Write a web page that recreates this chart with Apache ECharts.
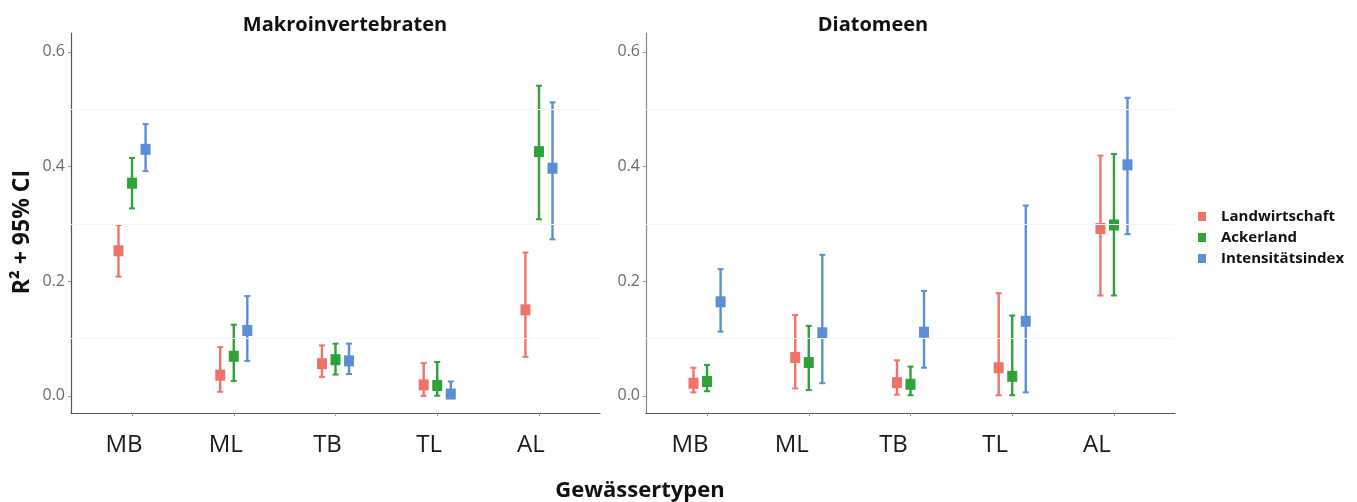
<!DOCTYPE html>
<html><head><meta charset="utf-8">
<script src="https://cdn.jsdelivr.net/npm/echarts@6/dist/echarts.min.js"></script>
<style>html,body{margin:0;padding:0;background:#fff}#c{width:1357px;height:502px}</style>
</head><body><div id="c"></div>
<script>
const categories = ['MB', 'ML', 'TB', 'TL', 'AL'];
const groups = ['Landwirtschaft', 'Ackerland', 'Intensitätsindex'];
const yTicks = [0, 0.2, 0.4, 0.6];
const gridValues = [0.1, 0.3, 0.5];
const panelTitles = ['Makroinvertebraten', 'Diatomeen'];

// Makroinvertebraten
const makroLandwirtschaft   = [0.253, 0.036, 0.056, 0.019, 0.150];
const makroLandwirtschaftLo = [0.208, 0.007, 0.033, 0.000, 0.068];
const makroLandwirtschaftHi = [0.298, 0.085, 0.088, 0.057, 0.250];
const makroAckerland        = [0.371, 0.069, 0.063, 0.018, 0.426];
const makroAckerlandLo      = [0.327, 0.026, 0.037, 0.000, 0.308];
const makroAckerlandHi      = [0.415, 0.124, 0.091, 0.059, 0.541];
const makroIntensitaet      = [0.430, 0.114, 0.061, 0.003, 0.397];
const makroIntensitaetLo    = [0.392, 0.061, 0.038, 0.000, 0.273];
const makroIntensitaetHi    = [0.474, 0.174, 0.091, 0.025, 0.512];

// Diatomeen
const diaLandwirtschaft   = [0.022, 0.067, 0.023, 0.049, 0.292];
const diaLandwirtschaftLo = [0.006, 0.013, 0.002, 0.001, 0.175];
const diaLandwirtschaftHi = [0.049, 0.141, 0.062, 0.179, 0.419];
const diaAckerland        = [0.025, 0.058, 0.020, 0.034, 0.298];
const diaAckerlandLo      = [0.008, 0.010, 0.001, 0.001, 0.175];
const diaAckerlandHi      = [0.054, 0.122, 0.051, 0.140, 0.422];
const diaIntensitaet      = [0.164, 0.110, 0.111, 0.130, 0.403];
const diaIntensitaetLo    = [0.112, 0.022, 0.049, 0.006, 0.282];
const diaIntensitaetHi    = [0.221, 0.246, 0.183, 0.332, 0.520];

const panels = [
  { vals: [makroLandwirtschaft, makroAckerland, makroIntensitaet],
    lo:   [makroLandwirtschaftLo, makroAckerlandLo, makroIntensitaetLo],
    hi:   [makroLandwirtschaftHi, makroAckerlandHi, makroIntensitaetHi] },
  { vals: [diaLandwirtschaft, diaAckerland, diaIntensitaet],
    lo:   [diaLandwirtschaftLo, diaAckerlandLo, diaIntensitaetLo],
    hi:   [diaLandwirtschaftHi, diaAckerlandHi, diaIntensitaetHi] }
];

const colors = ['#f0736a', '#2fa23a', '#5b8ed6'];
const dodge = [-0.133, 0, 0.133];
const FONT = '"Open Sans", sans-serif';

function renderErr(params, api) {
  const x = api.value(0), lo = api.value(1), hi = api.value(2);
  const pLo = api.coord([x, lo]);
  const pHi = api.coord([x, hi]);
  const cap = 3;
  const st = { stroke: api.visual('color'), lineWidth: 2.4 };
  const cs = { stroke: api.visual('color'), lineWidth: 2 };
  return { type: 'group', children: [
    { type: 'line', shape: { x1: pLo[0], y1: pLo[1], x2: pHi[0], y2: pHi[1] }, style: st },
    { type: 'line', shape: { x1: pLo[0] - cap, y1: pLo[1], x2: pLo[0] + cap, y2: pLo[1] }, style: cs },
    { type: 'line', shape: { x1: pHi[0] - cap, y1: pHi[1], x2: pHi[0] + cap, y2: pHi[1] }, style: cs }
  ]};
}

const grids = [
  { left: 71, right: 757, top: 33, bottom: 89 },
  { left: 646, right: 182, top: 33, bottom: 89 }
];
const labelShift = [16, 34];

const xAxes = [], yAxes = [], series = [];
panels.forEach((p, pi) => {
  xAxes.push({
    type: 'value', gridIndex: pi, min: -0.6, max: 4.6,
    axisLine: { show: true, onZero: false, lineStyle: { color: '#555', width: 1.2 } },
    axisTick: { show: true, customValues: [0, 1, 2, 3, 4], length: 3, lineStyle: { color: '#999' } },
    axisLabel: { customValues: [0, 1, 2, 3, 4], formatter: v => categories[Math.round(v)],
      fontFamily: FONT, fontSize: 24, color: '#1a1a1a', margin: 20, padding: [0, labelShift[pi], 0, 0] },
    splitLine: { show: false }
  });
  yAxes.push({
    type: 'value', gridIndex: pi, min: -0.03, max: 0.633,
    name: pi === 0 ? 'R² + 95% CI' : '',
    nameLocation: 'middle', nameRotate: 90, nameGap: 37,
    nameTextStyle: { fontFamily: FONT, fontSize: 23, fontWeight: 'bold', color: '#111', padding: [0, 18, 0, 0] },
    axisLine: { show: true, onZero: false, lineStyle: { color: pi === 0 ? '#555' : '#888', width: 1.2 } },
    axisTick: { show: true, customValues: yTicks, length: 3, lineStyle: { color: '#999' } },
    axisLabel: { customValues: yTicks, formatter: v => v.toFixed(1), fontFamily: FONT, fontSize: 16, color: '#6b6b6b', margin: 6 },
    splitLine: { show: false }
  });
  series.push({
    type: 'line', xAxisIndex: pi, yAxisIndex: pi, data: [], silent: true, z: 0,
    markLine: { silent: true, symbol: 'none', label: { show: false }, animation: false,
      lineStyle: { color: '#f5f5f5', width: 1, type: 'solid' },
      data: gridValues.map(v => ({ yAxis: v })) }
  });
  groups.forEach((g, gi) => {
    series.push({
      type: 'custom', name: g, xAxisIndex: pi, yAxisIndex: pi, z: 2, silent: true,
      itemStyle: { color: colors[gi] }, renderItem: renderErr,
      encode: { x: 0, y: [1, 2] },
      data: categories.map((c, ci) => [ci + dodge[gi], p.lo[gi][ci], p.hi[gi][ci]])
    });
    series.push({
      type: 'scatter', name: g, xAxisIndex: pi, yAxisIndex: pi, z: 3, silent: true,
      symbol: 'rect', symbolSize: [10, 11], itemStyle: { color: colors[gi], opacity: 1 },
      data: categories.map((c, ci) => [ci + dodge[gi], p.vals[gi][ci]])
    });
  });
});

const option = {
  animation: false,
  backgroundColor: '#fff',
  grid: grids,
  xAxis: xAxes,
  yAxis: yAxes,
  legend: {
    data: groups, orient: 'vertical', left: 1193, top: 204,
    icon: 'rect', itemWidth: 8, itemHeight: 9, itemGap: 6,
    selectedMode: false,
    textStyle: { fontFamily: FONT, fontSize: 15, fontWeight: 'bold', color: '#111', padding: [0, 0, 0, 10] }
  },
  graphic: [
    { type: 'text', x: 345, y: 25, silent: true,
      style: { text: panelTitles[0], font: 'bold 20px ' + FONT, fill: '#111', textAlign: 'center', textVerticalAlign: 'middle' } },
    { type: 'text', x: 873, y: 25, silent: true,
      style: { text: panelTitles[1], font: 'bold 20px ' + FONT, fill: '#111', textAlign: 'center', textVerticalAlign: 'middle' } },
    { type: 'text', x: 640, y: 491, silent: true,
      style: { text: 'Gewässertypen', font: 'bold 22px ' + FONT, fill: '#111', textAlign: 'center', textVerticalAlign: 'middle' } }
  ],
  series: series
};
const chart = echarts.init(document.getElementById('c'));
chart.setOption(option);
</script>
</body></html>
